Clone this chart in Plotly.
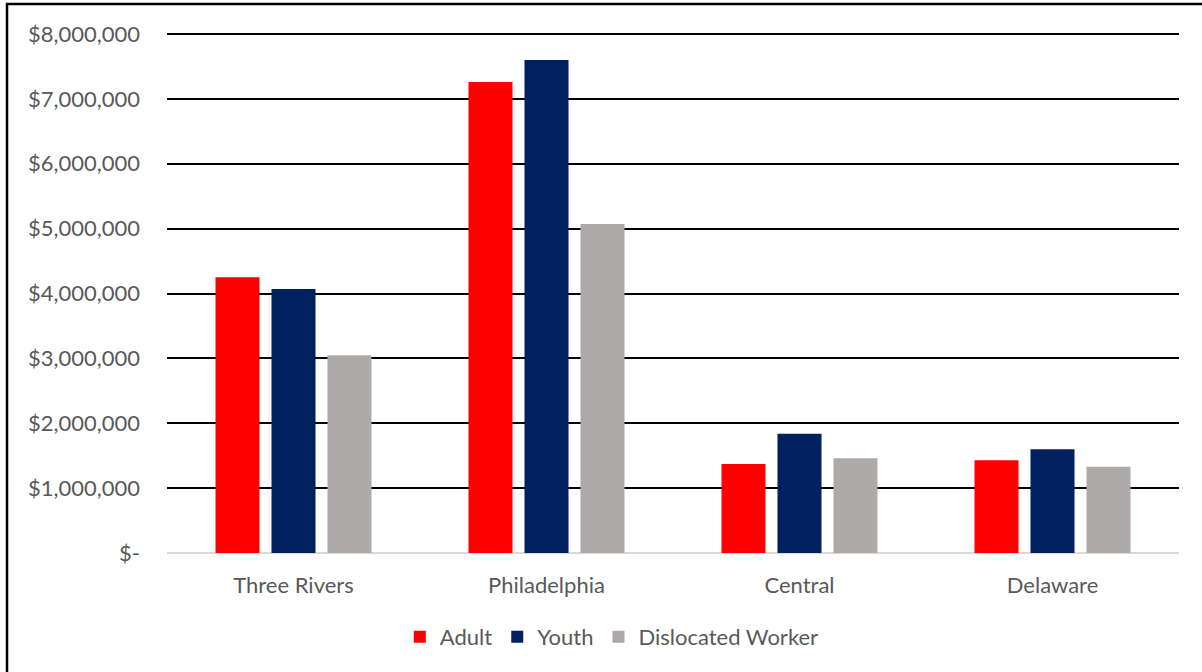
import plotly.graph_objects as go

regions = ["Three Rivers", "Philadelphia", "Central", "Delaware"]
adult = [4250000, 7260000, 1370000, 1430000]
youth = [4070000, 7600000, 1840000, 1600000]
dislocated = [3050000, 5070000, 1460000, 1330000]

tick_vals = [0, 1000000, 2000000, 3000000, 4000000, 5000000, 6000000, 7000000, 8000000]
tick_text = ["$-", "$1,000,000", "$2,000,000", "$3,000,000", "$4,000,000",
             "$5,000,000", "$6,000,000", "$7,000,000", "$8,000,000"]

series = [("Adult", adult, "#FF0000"),
          ("Youth", youth, "#002060"),
          ("Dislocated Worker", dislocated, "#AEAAAA")]

fig = go.Figure()
for name, vals, col in series:
    fig.add_trace(go.Bar(x=regions, y=vals, name=name,
                         marker=dict(color=col, line=dict(width=0))))

W, H = 1202, 672
L, R, T, B = 167, 23, 34, 119
pw = W - L - R
ph = H - T - B

fig.update_layout(
    width=W, height=H,
    margin=dict(l=L, r=R, t=T, b=B),
    paper_bgcolor="white", plot_bgcolor="white",
    barmode="group", bargap=0.336, bargroupgap=0.214,
    font=dict(family="Lato, 'Open Sans', sans-serif", size=22, color="#595959"),
    xaxis=dict(showgrid=False, showline=False, ticks="",
               tickfont=dict(size=22, color="#595959"), ticklabelstandoff=17),
    yaxis=dict(range=[0, tick_vals[-1]], tickvals=tick_vals, ticktext=tick_text,
               showgrid=True, gridcolor="black", gridwidth=2,
               zeroline=True, zerolinecolor="#D9D9D9", zerolinewidth=2,
               showline=False, ticks="",
               tickfont=dict(size=22, color="#595959"), ticklabelstandoff=26),
    legend=dict(orientation="h", xref="container", yref="container",
                x=0.509, y=1 - 637 / H, xanchor="center", yanchor="middle",
                font=dict(size=22, color="#595959"), itemwidth=30,
                traceorder="normal"),
    showlegend=True,
)

# top gridline at the range edge (plotly omits it)
fig.add_shape(type="line", xref="paper", yref="paper",
              x0=0, x1=1, y0=1, y1=1,
              line=dict(color="black", width=2), layer="below")

# outer chart border (top and left edges visible)
fig.add_shape(type="rect", xref="paper", yref="paper",
              x0=(7 - L) / pw, x1=(W + 20 - L) / pw,
              y0=-(H + 20 - (T + ph)) / ph, y1=(T + ph - 4) / ph,
              line=dict(color="black", width=2.5), fillcolor="rgba(0,0,0,0)",
              layer="above")

fig.write_html("out.html")
